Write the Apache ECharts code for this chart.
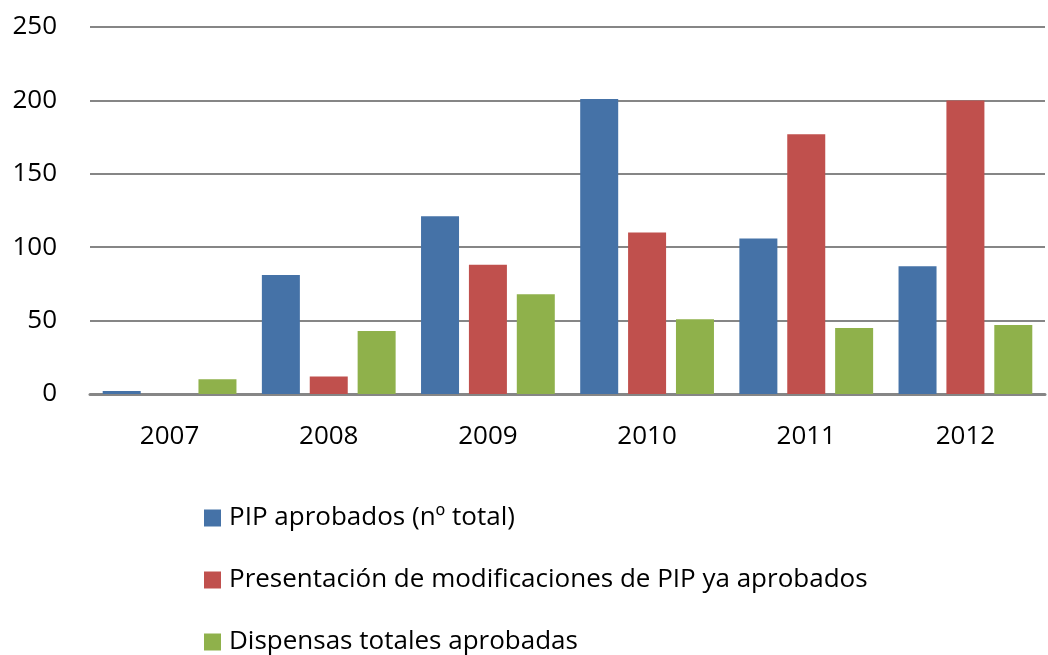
<!DOCTYPE html>
<html><head><meta charset="utf-8">
<script src="https://cdn.jsdelivr.net/npm/echarts@6/dist/echarts.min.js"></script>
<style>html,body{margin:0;padding:0;background:#fff}#c{width:1048px;height:655px}</style>
</head><body><div id="c"></div>
<script>
const categories = ['2007','2008','2009','2010','2011','2012'];
const pipAprobados = [2, 81, 121, 201, 106, 87];
const modificaciones = [0, 12, 88, 110, 177, 200];
const dispensas = [10, 43, 68, 51, 45, 47];
const seriesNames = ['PIP aprobados (nº total)','Presentación de modificaciones de PIP ya aprobados','Dispensas totales aprobadas'];
const colors = ['#4572A7','#C0504D','#8FB14B'];
const font = '"Open Sans", "Liberation Sans", sans-serif';
const chart = echarts.init(document.getElementById('c'));
chart.setOption({
  animation:false,
  color: colors,
  grid:{left:90,right:3,top:27,bottom:261,containLabel:false},
  legend:{orient:'vertical',left:204,top:505,padding:0,itemGap:36,itemWidth:17,itemHeight:17,icon:'rect',
    height:150,
    textStyle:{fontFamily:font,fontSize:26,color:'#000',lineHeight:26,padding:[0,0,0,3]},data:seriesNames},
  xAxis:{type:'category',data:categories,
    axisLine:{lineStyle:{color:'#868686',width:3}},axisTick:{show:false},
    axisLabel:{fontFamily:font,fontSize:26,color:'#000',margin:30}},
  yAxis:{type:'value',min:0,max:250,interval:50,
    axisLine:{show:false},axisTick:{show:false},
    splitLine:{lineStyle:{color:'#868686',width:2}},
    axisLabel:{fontFamily:font,fontSize:26,color:'#000',margin:33}},
  series:[
    {name:seriesNames[0],type:'bar',data:pipAprobados,barWidth:38,barGap:'26%'},
    {name:seriesNames[1],type:'bar',data:modificaciones,barWidth:38,barGap:'26%'},
    {name:seriesNames[2],type:'bar',data:dispensas,barWidth:38,barGap:'26%'}
  ]
});
</script></body></html>
